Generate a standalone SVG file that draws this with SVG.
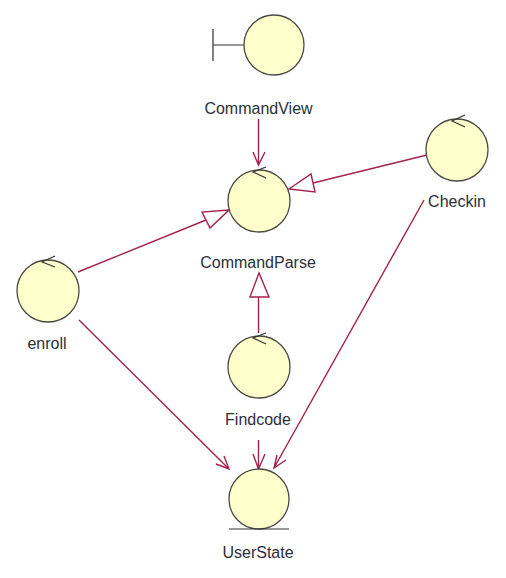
<svg xmlns="http://www.w3.org/2000/svg" width="506" height="578" viewBox="0 0 506 578">
<style>
.c{fill:#ffffcb;stroke:#4a4a44;stroke-width:1.3}
.k{fill:none;stroke:#333;stroke-width:1.2}
.t{font-family:"Liberation Sans",Arial,sans-serif;font-size:16px;fill:#2b2f3a;text-anchor:middle}
.l{fill:none;stroke:#a3224f;stroke-width:1.4}
.h{fill:#fff;stroke:#a3224f;stroke-width:1.4}
</style>
<rect width="506" height="578" fill="#fff"/>
<g id="connectors">
<path class="l" d="M258.500 119V165M253 152L258.500 165L265 152"/>
<path class="l" d="M427 155L313 183"/>
<path class="h" d="M289 189L311 174L315 192Z"/>
<path class="l" d="M78 272L206 220"/>
<path class="h" d="M229 210L202 212L210 228Z"/>
<path class="l" d="M258.500 333V297"/>
<path class="h" d="M259 273L250 297H269Z"/>
<path class="l" d="M79 320L229 469M216 464L229 469L224 456"/>
<path class="l" d="M258.500 440V469M253 454L258.500 469L265 454"/>
<path class="l" d="M424 200L274 468M277 455L274 468L286 460"/>
</g>
<g id="CommandView">
<path class="k" d="M213 29V61M213 45H244"/>
<circle class="c" cx="274" cy="45" r="30"/>
<text class="t" x="258.500" y="114">CommandView</text>
</g>
<g id="CommandParse">
<circle class="c" cx="259" cy="201" r="31"/>
<path class="k" d="M266 167L253 172L266 178"/>
<text class="t" x="258" y="268">CommandParse</text>
</g>
<g id="Checkin">
<circle class="c" cx="457" cy="150" r="31"/>
<path class="k" d="M465 115L452 121L465 127"/>
<text class="t" x="457" y="207">Checkin</text>
</g>
<g id="enroll">
<circle class="c" cx="48" cy="291" r="31"/>
<path class="k" d="M55 256L42 262L55 267"/>
<text class="t" x="47" y="349">enroll</text>
</g>
<g id="Findcode">
<circle class="c" cx="259" cy="367" r="31"/>
<path class="k" d="M266 333L253 338L266 344"/>
<text class="t" x="258" y="425">Findcode</text>
</g>
<g id="UserState">
<circle class="c" cx="259" cy="499" r="30"/>
<path class="k" d="M229 529H289"/>
<text class="t" x="258" y="558">UserState</text>
</g>
</svg>
